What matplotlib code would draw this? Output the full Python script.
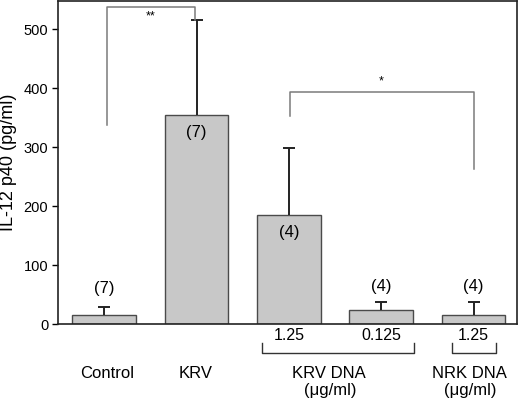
import matplotlib
matplotlib.use("Agg")
import matplotlib.pyplot as plt
import matplotlib.transforms as mtransforms
from matplotlib.lines import Line2D

plt.rcParams['font.family'] = ['Liberation Sans', 'DejaVu Sans']

# Data
conditions = ["Control", "KRV", "KRV DNA 1.25", "KRV DNA 0.125", "NRK DNA 1.25"]
means = [15, 355, 185, 24, 15]
errors = [13, 160, 114, 14, 23]
n_labels = ["(7)", "(7)", "(4)", "(4)", "(4)"]
dose_labels = ["1.25", "0.125", "1.25"]
group_labels = ["Control", "KRV", "KRV DNA", "NRK DNA"]
yticks = [0, 100, 200, 300, 400, 500]

x = list(range(len(conditions)))

fig = plt.figure(figsize=(5.20, 4.01), dpi=100)
ax = fig.add_axes([58/520, (401-324)/401, (517-58)/520, 323/401])

ax.bar(x, means, width=0.69, color="#c8c8c8", edgecolor="#4a4a4a", linewidth=1.0, zorder=2)
eb = ax.errorbar(x, means, yerr=[[0]*len(means), errors], fmt="none", ecolor="#222222",
                 elinewidth=1.4, capsize=4.5, capthick=1.4, zorder=3)
caps = eb[1]
if len(caps) >= 2:
    caps[0].set_visible(False)

ax.set_xlim(-0.5, 4.47)
ax.set_ylim(0, 548)
ax.set_yticks(yticks)
ax.set_xticks([])
ax.tick_params(axis="y", labelsize=10.5, length=4, width=1, direction="out", pad=3)
for s in ax.spines.values():
    s.set_linewidth(1.2)
    s.set_color("#222222")
ax.set_ylabel("IL-12 p40 (pg/ml)", fontsize=13, labelpad=5)

# n labels
n_pos = [(0, 60), (1, 325), (2, 155), (3, 63), (4, 63)]
for (xi, yi), lab in zip(n_pos, n_labels):
    ax.text(xi, yi, lab, ha="center", va="center", fontsize=12)

# significance brackets
gc = "#7a7a7a"
ax.plot([0.03, 0.03, 0.985, 0.985], [338, 538, 538, 515], color=gc, lw=1.1, clip_on=False, zorder=4)
ax.text(0.5, 521, "**", ha="center", va="center", fontsize=9)
ax.plot([2.01, 2.01, 4.0, 4.0], [353, 394, 394, 263], color=gc, lw=1.1, clip_on=False, zorder=4)
ax.text(3.0, 412, "*", ha="center", va="center", fontsize=9)

# below-axis labels
tr = mtransforms.blended_transform_factory(ax.transData, ax.transAxes)
for xi, lab in zip([2, 3, 4], dose_labels):
    ax.text(xi, -0.037, lab, transform=tr, ha="center", va="center", fontsize=11.5, clip_on=False)

for (x0, x1) in [(1.71, 3.35), (3.77, 4.24)]:
    line = Line2D([x0, x0, x1, x1], [-0.059, -0.090, -0.090, -0.059], transform=tr,
                  color="#333333", lw=1.0, clip_on=False)
    ax.add_line(line)

for xi, lab in zip([0.03, 0.99, 2.43, 3.95], group_labels):
    ax.text(xi, -0.152, lab, transform=tr, ha="center", va="center", fontsize=12, clip_on=False)
for xi in [2.45, 3.96]:
    ax.text(xi, -0.205, "(\u03bcg/ml)", transform=tr, ha="center", va="center", fontsize=12, clip_on=False)

fig.savefig("out.png", dpi=100)
